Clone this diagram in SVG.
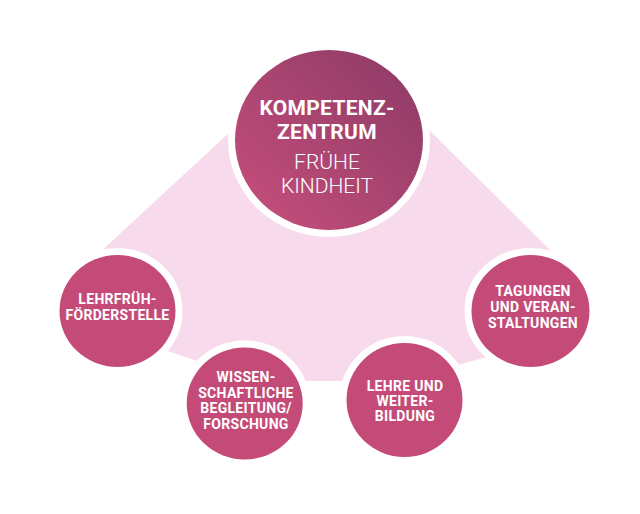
<svg xmlns="http://www.w3.org/2000/svg" width="640" height="514" viewBox="0 0 640 514">
  <defs>
    <linearGradient id="gc" x1="0" y1="1" x2="1" y2="0">
      <stop offset="0" stop-color="#C84F7C"/>
      <stop offset="1" stop-color="#8C3A66"/>
    </linearGradient>
    <style>
      .ring { stroke: #ffffff; stroke-width: 14; paint-order: stroke; }
      .node { fill: #C44B78; }
      .lbl { font-family: Roboto, "Liberation Sans", sans-serif; font-weight: 700; font-size: 14px; fill: #ffffff; text-anchor: middle; letter-spacing: 0.3px; }
      .big { font-family: Roboto, "Liberation Sans", sans-serif; font-weight: 700; font-size: 21px; fill: #ffffff; text-anchor: middle; letter-spacing: 0.3px; }
      .thin { font-family: Roboto, "Liberation Sans", sans-serif; font-weight: 300; font-size: 21px; fill: #ffffff; text-anchor: middle; }
    </style>
  </defs>
  <rect width="640" height="514" fill="#ffffff"/>
  <g id="connectors">
    <polygon points="259,105 404,105 560,260 530,345 401,381 257,381 120,335 97,255" fill="#F7DBEC"/>
  </g>
  <g id="lehrfruehfoerderstelle">
    <ellipse class="node ring" cx="117.5" cy="311" rx="58" ry="56"/>
    <text class="lbl" x="117.5" y="304">LEHRFRÜH-</text>
    <text class="lbl" x="117.5" y="319.5">FÖRDERSTELLE</text>
  </g>
  <g id="wissenschaftliche-begleitung">
    <ellipse class="node ring" cx="244.7" cy="403.5" rx="58" ry="56"/>
    <text class="lbl" x="246" y="382">WISSEN-</text>
    <text class="lbl" x="246" y="397.5">SCHAFTLICHE</text>
    <text class="lbl" x="246" y="413">BEGLEITUNG/</text>
    <text class="lbl" x="246" y="428.5">FORSCHUNG</text>
  </g>
  <g id="lehre-und-weiterbildung">
    <ellipse class="node ring" cx="404.5" cy="400" rx="58" ry="57"/>
    <text class="lbl" x="405" y="391">LEHRE UND</text>
    <text class="lbl" x="405" y="406">WEITER-</text>
    <text class="lbl" x="405" y="421">BILDUNG</text>
  </g>
  <g id="tagungen-und-veranstaltungen">
    <ellipse class="node ring" cx="530.5" cy="311" rx="59" ry="56"/>
    <text class="lbl" x="533" y="296">TAGUNGEN</text>
    <text class="lbl" x="533" y="312">UND VERAN-</text>
    <text class="lbl" x="533" y="327.5">STALTUNGEN</text>
  </g>
  <g id="kompetenzzentrum">
    <ellipse class="ring" cx="329" cy="140" rx="94" ry="90" fill="url(#gc)"/>
    <text class="big" x="327" y="115">KOMPETENZ-</text>
    <text class="big" x="327" y="139">ZENTRUM</text>
    <text class="thin" x="327" y="169">FRÜHE</text>
    <text class="thin" x="327" y="193">KINDHEIT</text>
  </g>
</svg>
